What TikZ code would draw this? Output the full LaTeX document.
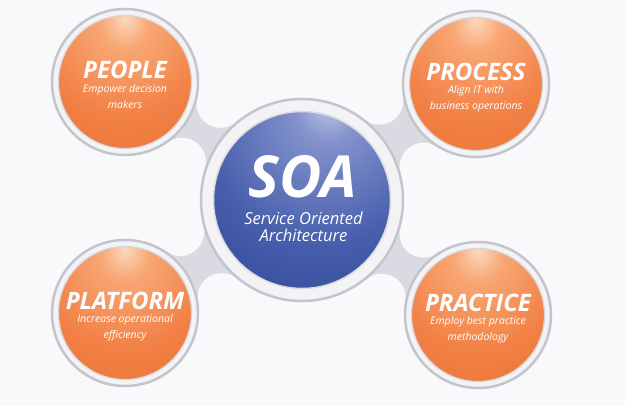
\documentclass[tikz,border=0pt]{standalone}
\usepackage{fontspec}
\setmainfont{Open Sans}
\usetikzlibrary{calc}
\definecolor{bgc}{HTML}{F9F9FB}
\definecolor{bridgec}{HTML}{DADAE2}
\definecolor{ringline}{HTML}{C4C4CC}
\definecolor{ringfill}{HTML}{F3F3F6}
\definecolor{ohi}{HTML}{FCD8BE}
\definecolor{omid}{HTML}{F8A775}
\definecolor{omain}{HTML}{F28145}
\definecolor{oedge}{HTML}{E5682A}
\definecolor{bhi}{HTML}{C3CAE8}
\definecolor{bmid}{HTML}{8392CC}
\definecolor{bmain}{HTML}{465EAC}
\definecolor{bedge}{HTML}{203788}
\pgfdeclareradialshading{orangeball}{\pgfpoint{0bp}{24bp}}{color(0bp)=(ohi); color(9bp)=(omid); color(30bp)=(omain); color(62bp)=(oedge); color(100bp)=(oedge)}
\pgfdeclareradialshading{blueball}{\pgfpoint{8bp}{28bp}}{color(0bp)=(bhi); color(9bp)=(bmid); color(32bp)=(bmain); color(66bp)=(bedge); color(100bp)=(bedge)}
\pgfdeclarelayer{bridgelayer}
\pgfsetlayers{bridgelayer,main}
\newcommand\soabridge[3]{%
  \pgfmathsetmacro\sbdx{#2-30.2}%
  \pgfmathsetmacro\sbdy{#3-20.0}%
  \pgfmathsetmacro\sbd{sqrt(\sbdx*\sbdx+\sbdy*\sbdy)}%
  \pgfmathsetmacro\sbux{\sbdx/\sbd}%
  \pgfmathsetmacro\sbuy{\sbdy/\sbd}%
  \pgfmathsetmacro\sbA{(10.2+2.4)*(10.2+2.4)}%
  \pgfmathsetmacro\sbB{(7.4+2.4)*(7.4+2.4)}%
  \pgfmathsetmacro\sbuo{(\sbA-\sbB+\sbd*\sbd)/(2*\sbd)}%
  \pgfmathsetmacro\sbvo{sqrt(\sbA-\sbuo*\sbuo)}%
  \coordinate (#1-fp) at ({30.2+\sbuo*\sbux-\sbvo*\sbuy},{20.0+\sbuo*\sbuy+\sbvo*\sbux});
  \coordinate (#1-fm) at ({30.2+\sbuo*\sbux+\sbvo*\sbuy},{20.0+\sbuo*\sbuy-\sbvo*\sbux});
  \fill[bridgec] (soa.center) -- ($(soa.center)!{10.2/12.6}!(#1-fp)$) -- (#1-fp)
     -- ($(#1.center)!{7.4/9.8}!(#1-fp)$) -- (#1.center)
     -- ($(#1.center)!{7.4/9.8}!(#1-fm)$) -- (#1-fm)
     -- ($(soa.center)!{10.2/12.6}!(#1-fm)$) -- cycle;
  \fill[bgc] (#1-fp) circle (2.4) (#1-fm) circle (2.4);
}
\begin{document}
\begin{tikzpicture}[x=10pt,y=-10pt,
  ringc/.style={circle, fill=ringfill, draw=ringline, line width=2.5pt, inner sep=0pt},
  oball/.style={circle, shading=orangeball, draw=ringline!70, line width=1.2pt, inner sep=0pt, minimum size=133pt},
  bball/.style={circle, shading=blueball, draw=ringline!60, line width=1.5pt, inner sep=0pt, minimum size=177pt},
  ttl/.style={text=white, font=\fontsize{24}{27}\selectfont\bfseries\itshape, inner sep=0pt},
  sub/.style={text=white, font=\fontsize{10.5}{16}\selectfont\itshape, align=center, inner sep=0pt},
]
\useasboundingbox (0,0) rectangle (62.5,40.6);

% circles
\node[ringc, minimum size=202pt] (soa) at (30.2,20.0) {};
\node[ringc, minimum size=146pt] (people) at (12.5,8.2) {};
\node[ringc, minimum size=146pt] (process) at (47.6,8.4) {};
\node[ringc, minimum size=146pt] (platform) at (12.5,31.3) {};
\node[ringc, minimum size=146pt] (practice) at (47.8,31.5) {};

\begin{pgfonlayer}{bridgelayer}
  \fill[bgc] (0,0) rectangle (62.5,40.6);
  \soabridge{people}{12.5}{8.2}
  \soabridge{process}{47.6}{8.4}
  \soabridge{platform}{12.5}{31.3}
  \soabridge{practice}{47.8}{31.5}
\end{pgfonlayer}

\node[bball] (soa-ball) at (soa) {};
\node[oball] (people-ball) at (people) {};
\node[oball] (process-ball) at (process) {};
\node[oball] (platform-ball) at (platform) {};
\node[oball] (practice-ball) at (practice) {};

% texts
\node[text=white, font=\fontsize{58}{64}\selectfont\bfseries\itshape, inner sep=0pt] (soa-t) at ($(soa)+(0.05,-2.3)$) {SOA};
\node[text=white, font=\fontsize{16.5}{17}\selectfont\itshape, align=center, inner sep=0pt] (soa-s) at ($(soa)+(0.15,2.65)$) {Service Oriented\\Architecture};

\node[ttl] (people-t) at ($(people)+(0,-1.2)$) {PEOPLE};
\node[sub] (people-s) at ($(people)+(0,1.5)$) {Empower decision\\makers};

\node[ttl] (process-t) at ($(process)+(0,-1.2)$) {PROCESS};
\node[sub] (process-s) at ($(process)+(0,1.5)$) {Align IT with\\business operations};

\node[ttl] (platform-t) at ($(platform)+(0,-1.2)$) {PLATFORM};
\node[sub] (platform-s) at ($(platform)+(0,1.5)$) {Increase operational\\efficiency};

\node[ttl] (practice-t) at ($(practice)+(0,-1.2)$) {PRACTICE};
\node[sub] (practice-s) at ($(practice)+(0,1.5)$) {Employ best practice\\methodology};
\end{tikzpicture}
\end{document}
